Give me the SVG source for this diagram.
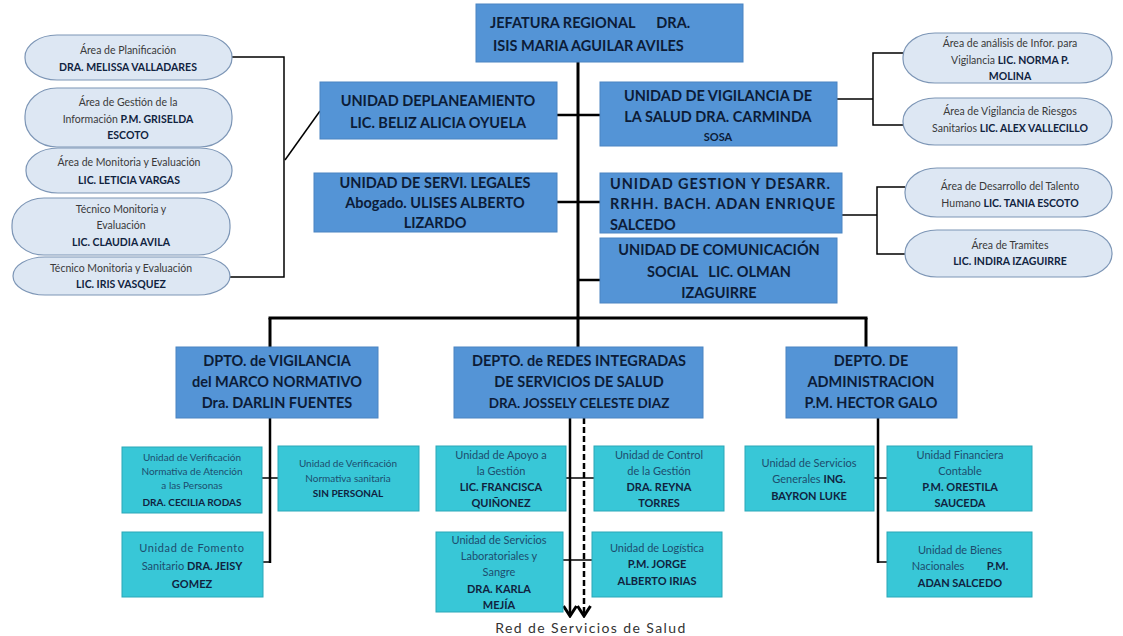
<svg xmlns="http://www.w3.org/2000/svg" width="1123" height="636" viewBox="0 0 1123 636">
<style>
text{font-family:Lato,"Liberation Sans",sans-serif}
.bx{fill:#5494d6;stroke:#4a84c2;stroke-width:1}
.cy{fill:#38c7d7;stroke:#2aa7b8;stroke-width:1}
.ov{fill:#dde7f3;stroke:#7d96b6;stroke-width:1.2}
.bt{font-size:14.5px;font-weight:700;fill:#0c1c38;text-anchor:middle}
.ot{font-size:10.5px;fill:#3a3a3a;text-anchor:middle}
.ct{font-size:11px;fill:#1d4d6e;text-anchor:middle}
.k{font-weight:700;fill:#10233f}
.ln{stroke:#000;fill:none;stroke-width:3}
.lm{stroke:#000;fill:none;stroke-width:2.5}
.lt{stroke:#000;fill:none;stroke-width:1.5}
.pre{white-space:pre}
</style>
<defs>
<marker id="ah" markerUnits="userSpaceOnUse" markerWidth="16" markerHeight="14" refX="8" refY="12" orient="0" viewBox="0 0 16 14">
<path d="M1.5,2 L8,12 L14.5,2" fill="none" stroke="#000" stroke-width="3"/>
</marker>
</defs>
<rect width="1123" height="636" fill="#fff"/>

<g id="connectors">
<polyline class="lt" points="232,57 284,57 284,277 230,277"/>
<line class="lt" x1="285" y1="160" x2="320" y2="111"/>
<line class="ln" x1="578" y1="62" x2="578" y2="318"/>
<line class="lm" x1="557" y1="115" x2="600" y2="115"/>
<line class="lm" x1="557" y1="202" x2="600" y2="202"/>
<line class="lm" x1="578" y1="280" x2="600" y2="280"/>
<polyline class="lt" points="837,99 873,99"/>
<polyline class="lt" points="903,53 873,53 873,125 903,125"/>
<polyline class="lt" points="842,215 877,215"/>
<polyline class="lt" points="905,187 877,187 877,254 905,254"/>
<line class="ln" x1="268.5" y1="318" x2="867.5" y2="318"/>
<line class="ln" x1="270" y1="318" x2="270" y2="347"/>
<line class="ln" x1="578" y1="318" x2="578" y2="347"/>
<line class="ln" x1="866" y1="318" x2="866" y2="347"/>
<line class="lm" x1="270" y1="418" x2="270" y2="563"/>
<line class="lt" x1="262" y1="478" x2="278" y2="478"/>
<line class="lt" x1="263" y1="562" x2="270" y2="562"/>
<line class="lm" x1="570" y1="418" x2="570" y2="616" marker-end="url(#ah)"/>
<line class="lm" x1="584" y1="418" x2="584" y2="616" stroke-dasharray="6,3" marker-end="url(#ah)"/>
<line class="lt" x1="566" y1="478" x2="594" y2="478"/>
<line class="lt" x1="563" y1="560" x2="592" y2="560"/>
<line class="lm" x1="878" y1="418" x2="878" y2="563"/>
<line class="lt" x1="874" y1="478" x2="887" y2="478"/>
<line class="lt" x1="878" y1="562" x2="887" y2="562"/>
</g>

<g id="jefatura">
<rect class="bx" x="476" y="4" width="267" height="58"/>
<text class="bt pre" x="490" y="28" style="text-anchor:start">JEFATURA REGIONAL      DRA.</text>
<text class="bt" x="493" y="51" style="text-anchor:start">ISIS MARIA AGUILAR AVILES</text>
</g>

<g id="u-planeamiento">
<rect class="bx" x="320" y="82" width="237" height="57"/>
<text class="bt" x="438" y="106">UNIDAD DEPLANEAMIENTO</text>
<text class="bt" x="438" y="128">LIC. BELIZ ALICIA OYUELA</text>
</g>
<g id="u-vigilancia">
<rect class="bx" x="600" y="82" width="237" height="64"/>
<text class="bt" x="718" y="101">UNIDAD DE VIGILANCIA DE</text>
<text class="bt" x="718" y="122">LA SALUD DRA. CARMINDA</text>
<text class="bt" x="718" y="141" style="font-size:11px">SOSA</text>
</g>
<g id="u-legales">
<rect class="bx" x="314" y="173" width="243" height="59"/>
<text class="bt" x="435" y="188">UNIDAD DE SERVI. LEGALES</text>
<text class="bt" x="435" y="208">Abogado. ULISES ALBERTO</text>
<text class="bt" x="435" y="228">LIZARDO</text>
</g>
<g id="u-gestion">
<rect class="bx" x="600" y="173" width="242" height="60"/>
<text class="bt" x="610" y="189" style="text-anchor:start" textLength="220">UNIDAD GESTION Y DESARR.</text>
<text class="bt" x="610" y="209" style="text-anchor:start" textLength="225">RRHH. BACH. ADAN ENRIQUE</text>
<text class="bt" x="610" y="230" style="text-anchor:start">SALCEDO</text>
</g>
<g id="u-comunicacion">
<rect class="bx" x="600" y="238" width="237" height="65"/>
<text class="bt" x="719" y="255">UNIDAD DE COMUNICACIÓN</text>
<text class="bt pre" x="719" y="277">SOCIAL   LIC. OLMAN</text>
<text class="bt" x="719" y="298">IZAGUIRRE</text>
</g>

<g id="a-planificacion">
<rect class="ov" x="25" y="35" width="207" height="45" rx="32" ry="22"/>
<text class="ot" x="128" y="54">Área de Planificación</text>
<text class="ot k" x="128" y="71">DRA. MELISSA VALLADARES</text>
</g>
<g id="a-gestion-info">
<rect class="ov" x="25" y="88" width="207" height="59" rx="32" ry="28"/>
<text class="ot" x="128" y="106">Área de Gestión de la</text>
<text class="ot" x="128" y="123">Información <tspan class="k">P.M. GRISELDA</tspan></text>
<text class="ot k" x="128" y="139">ESCOTO</text>
</g>
<g id="a-monitoria">
<rect class="ov" x="26" y="148" width="206" height="45" rx="32" ry="22"/>
<text class="ot" x="129" y="166">Área de Monitoria y Evaluación</text>
<text class="ot k" x="129" y="184">LIC. LETICIA VARGAS</text>
</g>
<g id="t-claudia">
<rect class="ov" x="12" y="198" width="218" height="57" rx="32" ry="27"/>
<text class="ot" x="121" y="213">Técnico  Monitoria y</text>
<text class="ot" x="121" y="229">Evaluación</text>
<text class="ot k" x="121" y="246">LIC. CLAUDIA AVILA</text>
</g>
<g id="t-iris">
<rect class="ov" x="13" y="257" width="217" height="38" rx="32" ry="19"/>
<text class="ot" x="121" y="272">Técnico Monitoria y Evaluación</text>
<text class="ot k" x="121" y="288">LIC. IRIS VASQUEZ</text>
</g>

<g id="a-analisis">
<rect class="ov" x="903" y="33" width="209" height="50" rx="32" ry="24"/>
<text class="ot" x="1010" y="47">Área de análisis de Infor. para</text>
<text class="ot" x="1010" y="64">Vigilancia <tspan class="k">LIC. NORMA P.</tspan></text>
<text class="ot k" x="1010" y="80">MOLINA</text>
</g>
<g id="a-riesgos">
<rect class="ov" x="903" y="98" width="209" height="47" rx="32" ry="23"/>
<text class="ot" x="1010" y="115">Área de Vigilancia de Riesgos</text>
<text class="ot" x="1010" y="132">Sanitarios <tspan class="k">LIC. ALEX VALLECILLO</tspan></text>
</g>
<g id="a-talento">
<rect class="ov" x="905" y="168" width="207" height="49" rx="32" ry="24"/>
<text class="ot" x="1010" y="190">Área de Desarrollo del Talento</text>
<text class="ot" x="1010" y="207">Humano <tspan class="k">LIC. TANIA ESCOTO</tspan></text>
</g>
<g id="a-tramites">
<rect class="ov" x="905" y="230" width="207" height="47" rx="32" ry="23"/>
<text class="ot" x="1010" y="249">Área de Tramites</text>
<text class="ot k" x="1010" y="265">LIC. INDIRA IZAGUIRRE</text>
</g>

<g id="d-vigilancia">
<rect class="bx" x="176" y="347" width="202" height="71"/>
<text class="bt" x="277" y="366">DPTO. de VIGILANCIA</text>
<text class="bt" x="277" y="387">del MARCO NORMATIVO</text>
<text class="bt" x="277" y="408">Dra. DARLIN FUENTES</text>
</g>
<g id="d-redes">
<rect class="bx" x="454" y="347" width="249" height="71"/>
<text class="bt" x="579" y="366">DEPTO. de REDES INTEGRADAS</text>
<text class="bt" x="579" y="387">DE SERVICIOS DE SALUD</text>
<text class="bt" x="579" y="408" style="font-size:13.5px">DRA. JOSSELY CELESTE DIAZ</text>
</g>
<g id="d-administracion">
<rect class="bx" x="786" y="347" width="171" height="71"/>
<text class="bt" x="871" y="366">DEPTO. DE</text>
<text class="bt" x="871" y="387">ADMINISTRACION</text>
<text class="bt" x="871" y="408">P.M. HECTOR GALO</text>
</g>

<g id="u-verif-atencion">
<rect class="cy" x="122" y="447" width="140" height="66"/>
<text class="ct" x="192" y="461" style="font-size:10px">Unidad de Verificación</text>
<text class="ct" x="192" y="475" style="font-size:10px">Normativa de Atención</text>
<text class="ct" x="192" y="489" style="font-size:10px">a las Personas</text>
<text class="ct k" x="192" y="506" style="font-size:10px">DRA. CECILIA RODAS</text>
</g>
<g id="u-verif-sanitaria">
<rect class="cy" x="278" y="446" width="141" height="65"/>
<text class="ct" x="348" y="467" style="font-size:10px">Unidad de Verificación</text>
<text class="ct" x="348" y="482" style="font-size:10px">Normativa sanitaria</text>
<text class="ct k" x="348" y="497" style="font-size:10px">SIN PERSONAL</text>
</g>
<g id="u-fomento">
<rect class="cy" x="122" y="532" width="141" height="65"/>
<text class="ct" x="192" y="552" style="letter-spacing:0.6px">Unidad de Fomento</text>
<text class="ct" x="192" y="570">Sanitario <tspan class="k">DRA. JEISY</tspan></text>
<text class="ct k" x="192" y="588">GOMEZ</text>
</g>
<g id="u-apoyo">
<rect class="cy" x="436" y="446" width="130" height="65"/>
<text class="ct" x="501" y="459">Unidad de Apoyo a</text>
<text class="ct" x="501" y="475">la Gestión</text>
<text class="ct k" x="501" y="491">LIC. FRANCISCA</text>
<text class="ct k" x="501" y="507">QUIÑONEZ</text>
</g>
<g id="u-control">
<rect class="cy" x="594" y="446" width="130" height="65"/>
<text class="ct" x="659" y="459">Unidad de Control</text>
<text class="ct" x="659" y="475">de la Gestión</text>
<text class="ct k" x="659" y="491">DRA. REYNA</text>
<text class="ct k" x="659" y="507">TORRES</text>
</g>
<g id="u-laboratorio">
<rect class="cy" x="436" y="532" width="127" height="80"/>
<text class="ct" x="499" y="544">Unidad de Servicios</text>
<text class="ct" x="499" y="560">Laboratoriales y</text>
<text class="ct" x="499" y="576">Sangre</text>
<text class="ct k" x="499" y="593">DRA. KARLA</text>
<text class="ct k" x="499" y="609">MEJÍA</text>
</g>
<g id="u-logistica">
<rect class="cy" x="592" y="532" width="130" height="65"/>
<text class="ct" x="657" y="552">Unidad de Logística</text>
<text class="ct k" x="657" y="568">P.M. JORGE</text>
<text class="ct k" x="657" y="585">ALBERTO IRIAS</text>
</g>
<g id="u-servicios-generales">
<rect class="cy" x="745" y="446" width="129" height="65"/>
<text class="ct" x="809" y="467">Unidad de Servicios</text>
<text class="ct" x="809" y="483">Generales <tspan class="k">ING.</tspan></text>
<text class="ct k" x="809" y="500">BAYRON LUKE</text>
</g>
<g id="u-financiera">
<rect class="cy" x="887" y="446" width="145" height="65"/>
<text class="ct" x="960" y="459">Unidad Financiera</text>
<text class="ct" x="960" y="475">Contable</text>
<text class="ct k" x="960" y="491">P.M. ORESTILA</text>
<text class="ct k" x="960" y="507">SAUCEDA</text>
</g>
<g id="u-bienes">
<rect class="cy" x="887" y="532" width="145" height="65"/>
<text class="ct" x="960" y="554">Unidad de Bienes</text>
<text class="ct pre" x="960" y="570">Nacionales        <tspan class="k">P.M.</tspan></text>
<text class="ct k" x="960" y="587">ADAN SALCEDO</text>
</g>

<g id="red-servicios">
<text x="591" y="633" style="font-size:14px;fill:#333;text-anchor:middle;letter-spacing:1.4px">Red de Servicios de Salud</text>
</g>
</svg>
